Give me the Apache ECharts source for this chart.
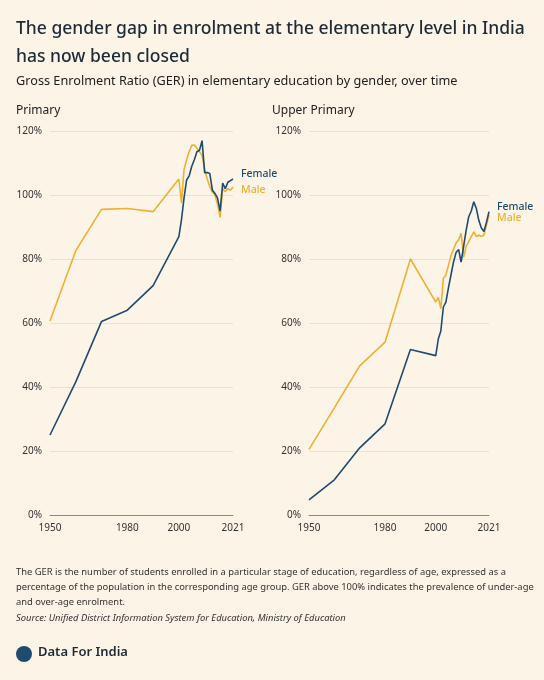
<!DOCTYPE html>
<html><head><meta charset="utf-8">
<script src="https://cdn.jsdelivr.net/npm/echarts@6/dist/echarts.min.js"></script>
<style>html,body{margin:0;padding:0;background:#fdf4e8;}#c{width:544px;height:680px;}</style>
</head><body><div id="c"></div>
<script>
const yTicks = ['0%','20%','40%','60%','80%','100%','120%'];
const xTicks = [1950,1980,2000,2021];
const primaryMale = [[1950,60.6],[1960,82.6],[1970,95.5],[1980,95.8],[1990,94.8],[2000,105],[2001,97.5],[2002,108],[2003,111],[2004,113.5],[2005,115.5],[2006,115.6],[2007,114.6],[2008,113.5],[2009,112.4],[2010,108],[2011,105],[2012,102.6],[2013,101],[2014,100],[2015,97],[2016,93],[2017,102],[2018,101],[2019,102],[2020,101.5],[2021,102.5]];
const primaryFemale = [[1950,25],[1960,41.6],[1970,60.5],[1980,64],[1990,71.7],[2000,87],[2001,92.2],[2002,99],[2003,104.7],[2004,106],[2005,109],[2006,111],[2007,113.5],[2008,114],[2009,117],[2010,107],[2011,107],[2012,106.7],[2013,101.5],[2014,100.5],[2015,99],[2016,95],[2017,103.7],[2018,102],[2019,104],[2020,104.5],[2021,105]];
const upperMale = [[1950,20.5],[1960,33.5],[1970,46.6],[1980,54],[1990,80],[2000,66.5],[2001,68],[2002,64.5],[2003,74],[2004,75],[2005,78],[2006,81],[2007,83],[2008,85],[2009,86],[2010,88],[2011,80.5],[2012,84],[2013,85.4],[2014,87],[2015,88.5],[2016,87],[2017,87.5],[2018,87],[2019,87.5],[2020,90.5],[2021,93.8]];
const upperFemale = [[1950,4.7],[1960,11],[1970,21],[1980,28.5],[1990,51.7],[2000,49.8],[2001,55],[2002,57.5],[2003,65],[2004,66.5],[2005,71],[2006,75],[2007,79],[2008,82],[2009,83],[2010,79],[2011,84],[2012,89],[2013,93.2],[2014,95],[2015,97.9],[2016,95.8],[2017,92],[2018,89.7],[2019,88.6],[2020,91.5],[2021,94.8]];
const FEM='#1f4b6e', MAL='#f0b030', TXT='#1c2b36';
const chart = echarts.init(document.getElementById('c'));
function xa(i){return {type:'value',gridIndex:i,min:1950,max:2021,interval:1,
  axisLine:{show:true,lineStyle:{color:'#888'}},axisTick:{show:false},splitLine:{show:false},
  axisLabel:{color:'#333',fontSize:10,fontFamily:'Noto Sans',showMinLabel:true,showMaxLabel:true,
    formatter:v=>xTicks.includes(v)?String(v):''}};}
function ya(i){return {type:'value',gridIndex:i,min:0,max:120,interval:20,
  axisLine:{show:false},axisTick:{show:false},
  splitLine:{lineStyle:{color:'#ece0cf'}},
  axisLabel:{color:'#333',fontSize:10,fontFamily:'Noto Sans',formatter:v=>yTicks[v/20]}};}
function ser(i,data,color,name){return {type:'line',xAxisIndex:i,yAxisIndex:i,data:data,symbol:'none',
  lineStyle:{color:color,width:1.6},
  endLabel:{show:true,formatter:name,color:color,fontSize:10.5,fontWeight:500,fontFamily:'Noto Sans',offset:[0,name==='Female'?-5:3]}};}
chart.setOption({
  backgroundColor:'#fdf4e8',
  textStyle:{fontFamily:'Noto Sans'},
  grid:[{left:50,width:183,top:131,height:384},{left:309,width:180,top:131,height:384}],
  xAxis:[xa(0),xa(1)], yAxis:[ya(0),ya(1)],
  series:[ser(0,primaryMale,MAL,'Male'),ser(0,primaryFemale,FEM,'Female'),
          ser(1,upperMale,MAL,'Male'),ser(1,upperFemale,FEM,'Female')],
  graphic:[
    {type:'text',left:16,top:15,style:{text:'The gender gap in enrolment at the elementary level in India\nhas now been closed',fill:TXT,font:'500 17.5px "Noto Sans"',lineHeight:28}},
    {type:'text',left:16,top:75,style:{text:'Gross Enrolment Ratio (GER) in elementary education by gender, over time',fill:'#222',font:'12.7px "Noto Sans"'}},
    {type:'text',left:16,top:105,style:{text:'Primary',fill:'#222',font:'12px "Noto Sans"'}},
    {type:'text',left:272,top:105,style:{text:'Upper Primary',fill:'#222',font:'12px "Noto Sans"'}},
    {type:'text',left:16,top:565,style:{text:'The GER is the number of students enrolled in a particular stage of education, regardless of age, expressed as a\npercentage of the population in the corresponding age group. GER above 100% indicates the prevalence of under-age\nand over-age enrolment.',fill:'#333',font:'9.4px "Noto Sans"',lineHeight:15}},
    {type:'text',left:16,top:614,style:{text:'Source: Unified District Information System for Education, Ministry of Education',fill:'#333',font:'italic 9.4px "Noto Sans"'}},
    {type:'circle',shape:{cx:24,cy:654,r:8},style:{fill:'#1f4b6e'}},
    {type:'text',left:38,top:646,style:{text:'Data For India',fill:TXT,font:'600 13px "Noto Sans"'}}
  ]
});
</script></body></html>
